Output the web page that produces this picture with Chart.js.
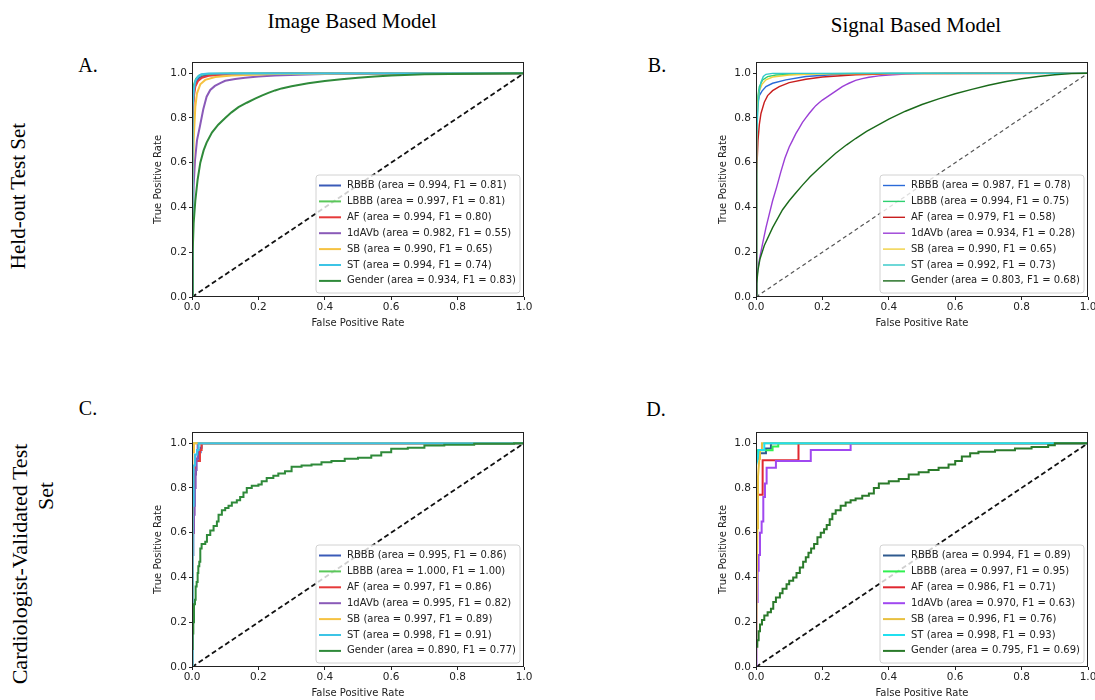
<!DOCTYPE html>
<html>
<head>
<meta charset="utf-8">
<script src="https://cdn.jsdelivr.net/npm/chart.js@4.4.1/dist/chart.umd.min.js"></script>
<style>
  html, body { margin: 0; padding: 0; background: #fff; overflow: hidden; width: 1095px; height: 700px; }
  .lbl { position: absolute; font-family: 'Liberation Serif', 'Times New Roman', serif; font-size: 21px; color: #000;
         white-space: nowrap; transform: translate(-50%, -50%); }
  .rot { transform: translate(-50%, -50%) rotate(-90deg); }
  canvas { position: absolute; }
</style>
</head>
<body>
<div class="lbl" style="left:352px;top:21px">Image Based Model</div>
<div class="lbl" style="left:916px;top:25px">Signal Based Model</div>
<div class="lbl" style="left:88px;top:65px;font-size:20px">A.</div>
<div class="lbl" style="left:657px;top:65px;font-size:20px">B.</div>
<div class="lbl" style="left:88px;top:408px;font-size:20px">C.</div>
<div class="lbl" style="left:656px;top:409px;font-size:20px">D.</div>
<div class="lbl rot" style="left:18px;top:196px">Held-out Test Set</div>
<div class="lbl rot" style="left:20px;top:564px;font-size:22px">Cardiologist-Validated Test</div>
<div class="lbl rot" style="left:46px;top:496px;font-size:22px">Set</div>

<canvas id="chartA" width="400" height="285" style="left:140px;top:50px"></canvas>
<canvas id="chartB" width="390" height="285" style="left:705px;top:50px"></canvas>
<canvas id="chartC" width="400" height="285" style="left:140px;top:420px"></canvas>
<canvas id="chartD" width="390" height="285" style="left:705px;top:420px"></canvas>

<script>
// classes and tick labels
const classNames = ['RBBB', 'LBBB', 'AF', '1dAVb', 'SB', 'ST', 'Gender'];
const xTicks = [0, 0.2, 0.4, 0.6, 0.8, 1.0];
const yTicks = [0, 0.2, 0.4, 0.6, 0.8, 1.0];

// area / F1 per panel
const aucA = [0.994, 0.997, 0.994, 0.982, 0.990, 0.994, 0.934];
const f1A  = [0.81, 0.81, 0.80, 0.55, 0.65, 0.74, 0.83];
const aucB = [0.987, 0.994, 0.979, 0.934, 0.990, 0.992, 0.803];
const f1B  = [0.78, 0.75, 0.58, 0.28, 0.65, 0.73, 0.68];
const aucC = [0.995, 1.000, 0.997, 0.995, 0.997, 0.998, 0.890];
const f1C  = [0.86, 1.00, 0.86, 0.82, 0.89, 0.91, 0.77];
const aucD = [0.994, 0.997, 0.986, 0.970, 0.996, 0.998, 0.795];
const f1D  = [0.89, 0.95, 0.71, 0.63, 0.76, 0.93, 0.69];

// A. image model, held-out set  [fpr, tpr]
const aRBBB = [[0,0],[0.001,0.62],[0.003,0.85],[0.006,0.92],[0.01,0.955],[0.02,0.978],[0.035,0.988],[0.06,0.993],[0.12,0.997],[0.3,0.999],[1,1]];
const aLBBB = [[0,0],[0.001,0.7],[0.003,0.9],[0.006,0.95],[0.012,0.975],[0.022,0.99],[0.04,0.996],[0.1,0.999],[1,1]];
const aAF = [[0,0],[0.001,0.55],[0.003,0.8],[0.006,0.9],[0.01,0.94],[0.018,0.965],[0.03,0.98],[0.05,0.988],[0.1,0.994],[0.25,0.998],[1,1]];
const a1dAVb = [[0,0],[0.002,0.3],[0.005,0.5],[0.009,0.61],[0.015,0.7],[0.024,0.764],[0.034,0.839],[0.044,0.895],[0.055,0.925],[0.069,0.943],[0.085,0.956],[0.1,0.966],[0.13,0.974],[0.16,0.98],[0.2,0.985],[0.25,0.99],[0.32,0.993],[0.4,0.996],[0.6,0.999],[1,1]];
const aSB = [[0,0],[0.002,0.45],[0.005,0.7],[0.01,0.85],[0.015,0.91],[0.025,0.95],[0.04,0.97],[0.07,0.983],[0.12,0.99],[0.25,0.996],[0.5,0.999],[1,1]];
const aST = [[0,0],[0.001,0.6],[0.003,0.85],[0.006,0.93],[0.01,0.965],[0.018,0.985],[0.028,0.995],[0.05,0.999],[1,1]];
const aGender = [[0,0],[0.002,0.2],[0.005,0.33],[0.01,0.43],[0.017,0.525],[0.025,0.6],[0.035,0.655],[0.044,0.69],[0.06,0.735],[0.079,0.77],[0.1,0.8],[0.119,0.825],[0.14,0.848],[0.165,0.868],[0.19,0.886],[0.21,0.9],[0.23,0.912],[0.25,0.923],[0.27,0.932],[0.3,0.942],[0.35,0.955],[0.4,0.965],[0.45,0.973],[0.5,0.98],[0.55,0.985],[0.6,0.99],[0.7,0.995],[0.85,0.998],[1,1]];

// B. signal model, held-out set
const bRBBB = [[0,0],[0.001,0.5],[0.003,0.78],[0.006,0.87],[0.01,0.9],[0.018,0.92],[0.03,0.94],[0.05,0.955],[0.09,0.97],[0.15,0.985],[0.25,0.995],[0.4,0.999],[1,1]];
const bLBBB = [[0,0],[0.001,0.55],[0.003,0.8],[0.006,0.9],[0.01,0.94],[0.02,0.97],[0.035,0.985],[0.06,0.992],[0.15,0.997],[0.3,0.999],[1,1]];
const bAF = [[0,0],[0.001,0.3],[0.003,0.55],[0.006,0.7],[0.01,0.77],[0.015,0.82],[0.025,0.87],[0.035,0.9],[0.05,0.922],[0.07,0.94],[0.1,0.958],[0.15,0.973],[0.2,0.983],[0.3,0.993],[0.45,0.998],[1,1]];
const b1dAVb = [[0,0],[0.002,0.08],[0.006,0.13],[0.012,0.18],[0.02,0.24],[0.03,0.31],[0.04,0.37],[0.05,0.43],[0.062,0.49],[0.075,0.56],[0.087,0.62],[0.1,0.67],[0.11,0.7],[0.12,0.73],[0.13,0.755],[0.14,0.78],[0.15,0.8],[0.16,0.82],[0.17,0.838],[0.18,0.855],[0.19,0.868],[0.2,0.88],[0.21,0.89],[0.22,0.9],[0.23,0.91],[0.24,0.92],[0.25,0.93],[0.26,0.94],[0.27,0.948],[0.28,0.955],[0.3,0.968],[0.32,0.976],[0.34,0.982],[0.37,0.988],[0.4,0.992],[0.45,0.996],[0.5,0.998],[1,1]];
const bSB = [[0,0],[0.001,0.5],[0.003,0.75],[0.006,0.87],[0.01,0.92],[0.018,0.95],[0.03,0.97],[0.05,0.983],[0.1,0.992],[0.2,0.997],[1,1]];
const bST = [[0,0],[0.001,0.45],[0.003,0.72],[0.006,0.85],[0.01,0.92],[0.015,0.96],[0.022,0.985],[0.03,0.995],[0.05,0.999],[1,1]];
const bGender = [[0,0],[0.002,0.06],[0.006,0.12],[0.012,0.17],[0.025,0.23],[0.05,0.31],[0.08,0.39],[0.1,0.43],[0.117,0.46],[0.14,0.5],[0.163,0.537],[0.19,0.575],[0.213,0.607],[0.24,0.642],[0.273,0.68],[0.3,0.708],[0.333,0.74],[0.37,0.77],[0.4,0.795],[0.45,0.83],[0.5,0.86],[0.55,0.885],[0.6,0.908],[0.65,0.928],[0.7,0.946],[0.75,0.962],[0.8,0.975],[0.85,0.985],[0.9,0.993],[0.95,0.998],[1,1]];

// C. image model, cardiologist-validated set
const cRBBB = [[0,0],[0,0.5],[0.004,0.5],[0.004,0.72],[0.008,0.72],[0.008,0.86],[0.012,0.86],[0.012,0.93],[0.018,0.93],[0.018,0.96],[0.026,0.96],[0.026,0.98],[0.029,0.98],[0.029,1],[1,1]];
const cLBBB = [[0,0],[0,1],[1,1]];
const cAF = [[0,0],[0,0.6],[0.006,0.6],[0.006,0.86],[0.01,0.86],[0.01,0.92],[0.024,0.92],[0.024,0.97],[0.029,0.97],[0.029,1],[1,1]];
const c1dAVb = [[0,0],[0,0.4],[0.003,0.4],[0.003,0.6],[0.006,0.6],[0.006,0.68],[0.008,0.68],[0.008,0.8],[0.011,0.8],[0.011,0.88],[0.014,0.88],[0.014,0.93],[0.017,0.93],[0.017,1],[1,1]];
const cSB = [[0,0],[0,0.44],[0.002,0.44],[0.002,0.96],[0.006,0.96],[0.006,1],[1,1]];
const cST = [[0,0],[0,0.6],[0.003,0.6],[0.003,0.72],[0.005,0.72],[0.005,0.9],[0.009,0.9],[0.009,0.95],[0.015,0.95],[0.015,0.97],[0.02,0.97],[0.02,1],[1,1]];
const cGender = [[0,0],[0,0.08],[0.002,0.15],[0.004,0.2],[0.006,0.28],[0.009,0.3],[0.011,0.36],[0.014,0.38],[0.017,0.42],[0.019,0.45],[0.022,0.47],[0.025,0.53],[0.029,0.55],[0.04,0.56],[0.045,0.59],[0.055,0.61],[0.065,0.63],[0.075,0.65],[0.08,0.68],[0.09,0.7],[0.1,0.71],[0.11,0.72],[0.12,0.735],[0.135,0.745],[0.145,0.76],[0.155,0.78],[0.165,0.8],[0.18,0.81],[0.2,0.815],[0.21,0.83],[0.225,0.845],[0.245,0.855],[0.26,0.865],[0.28,0.875],[0.3,0.895],[0.33,0.9],[0.36,0.905],[0.39,0.915],[0.42,0.92],[0.46,0.93],[0.5,0.935],[0.54,0.945],[0.57,0.96],[0.6,0.975],[0.65,0.98],[0.7,0.99],[0.76,0.993],[0.85,0.997],[0.97,1],[1,1]];

// D. signal model, cardiologist-validated set
const dRBBB = [[0,0],[0,0.93],[0.01,0.93],[0.01,0.955],[0.03,0.955],[0.03,0.976],[0.045,0.976],[0.045,1],[1,1]];
const dLBBB = [[0,0],[0,0.94],[0.005,0.94],[0.005,0.969],[0.05,0.969],[0.05,0.985],[0.067,0.985],[0.067,1],[1,1]];
const dAF = [[0,0],[0,0.77],[0.02,0.77],[0.02,0.924],[0.128,0.924],[0.128,1],[1,1]];
const d1dAVb = [[0,0],[0,0.15],[0.002,0.15],[0.002,0.29],[0.005,0.29],[0.005,0.43],[0.008,0.43],[0.008,0.5],[0.012,0.5],[0.012,0.6],[0.017,0.6],[0.017,0.65],[0.022,0.65],[0.022,0.76],[0.027,0.76],[0.027,0.82],[0.032,0.82],[0.032,0.89],[0.06,0.89],[0.06,0.92],[0.165,0.92],[0.165,0.97],[0.285,0.97],[0.285,1],[1,1]];
const dSB = [[0,0],[0.004,0.62],[0.006,0.85],[0.01,0.93],[0.012,0.97],[0.018,0.97],[0.018,1],[1,1]];
const dST = [[0,0],[0,0.9],[0.005,0.93],[0.008,0.97],[0.025,0.97],[0.025,1],[1,1]];
const dGender = [[0,0],[0,0.09],[0.004,0.12],[0.008,0.16],[0.012,0.19],[0.018,0.21],[0.025,0.23],[0.035,0.245],[0.045,0.26],[0.052,0.29],[0.06,0.31],[0.072,0.33],[0.08,0.35],[0.092,0.37],[0.1,0.385],[0.112,0.4],[0.122,0.42],[0.132,0.445],[0.142,0.47],[0.15,0.49],[0.158,0.51],[0.166,0.53],[0.175,0.55],[0.185,0.58],[0.195,0.6],[0.205,0.615],[0.213,0.635],[0.222,0.66],[0.23,0.685],[0.24,0.7],[0.255,0.72],[0.27,0.735],[0.285,0.745],[0.3,0.753],[0.32,0.765],[0.34,0.775],[0.355,0.8],[0.37,0.82],[0.4,0.83],[0.43,0.84],[0.46,0.86],[0.49,0.87],[0.52,0.88],[0.55,0.89],[0.58,0.905],[0.6,0.92],[0.62,0.94],[0.645,0.955],[0.67,0.962],[0.72,0.969],[0.78,0.976],[0.83,0.983],[0.88,0.991],[0.9,1],[1,1]];

// line colours per panel
const colorsImg = ['#3a5bb8', '#5ac85a', '#e63a3a', '#8a5ab8', '#f5c242', '#3cc4e6', '#2f8a3a'];
const colorsSigB = ['#2a6ad8', '#2ed070', '#c81e1e', '#9b3fd6', '#f0d040', '#30c8c8', '#1a6a1a'];
const colorsSigD = ['#2f5a8f', '#30f050', '#e02830', '#a048f0', '#e8c040', '#20e0f0', '#2a7a2a'];

const sans = 'DejaVu Sans';

// spines + legend inside the plot, lower right
const rocLegend = {
  id: 'rocLegend',
  afterDatasetsDraw(chart) {
    const { ctx, chartArea: ca } = chart;
    ctx.save();
    ctx.strokeStyle = '#222';
    ctx.lineWidth = 1;
    ctx.strokeRect(ca.left + 0.5, ca.top + 0.5, ca.right - ca.left - 1, ca.bottom - ca.top - 1);

    const w = 204, h = 118, r = 3;
    const x0 = ca.right - 4 - w, y0 = ca.bottom - 4 - h;
    ctx.beginPath();
    ctx.moveTo(x0 + r, y0);
    ctx.arcTo(x0 + w, y0, x0 + w, y0 + h, r);
    ctx.arcTo(x0 + w, y0 + h, x0, y0 + h, r);
    ctx.arcTo(x0, y0 + h, x0, y0, r);
    ctx.arcTo(x0, y0, x0 + w, y0, r);
    ctx.closePath();
    ctx.fillStyle = 'rgba(255,255,255,0.8)';
    ctx.fill();
    ctx.strokeStyle = '#d2d2d2';
    ctx.stroke();

    ctx.font = '10px ' + sans;
    ctx.textBaseline = 'middle';
    chart.data.datasets.filter(ds => !ds.diag).forEach((ds, i) => {
      const y = y0 + 10.5 + i * 15.9;
      ctx.beginPath();
      ctx.strokeStyle = ds.borderColor;
      ctx.lineWidth = ds.borderWidth;
      ctx.moveTo(x0 + 3, y);
      ctx.lineTo(x0 + 25, y);
      ctx.stroke();
      ctx.fillStyle = '#222';
      ctx.fillText(ds.label, x0 + 31, y);
    });
    ctx.restore();
  }
};

function rocChart(id, curves, auc, f1, colors, lw, diag, yWidth, padRight, stepGender) {
  const datasets = curves.map((c, i) => ({
    label: `${classNames[i]} (area = ${auc[i].toFixed(3)}, F1 = ${f1[i].toFixed(2)})`,
    data: c.map(p => ({ x: p[0], y: p[1] })),
    borderColor: colors[i],
    borderWidth: lw,
    stepped: (stepGender && i === 6) ? 'before' : false,
    order: -i
  }));
  datasets.push({
    label: '', diag: true,
    data: [{ x: 0, y: 0 }, { x: 1, y: 1 }],
    borderColor: diag.color, borderWidth: diag.width, borderDash: diag.dash,
    order: 10
  });

  const tickFont = { family: sans, size: 10.5 };
  const titleFont = { family: sans, size: 10 };

  return new Chart(document.getElementById(id), {
    type: 'scatter',
    data: { datasets },
    options: {
      responsive: false,
      animation: false,
      devicePixelRatio: 1,
      showLine: true,
      elements: { point: { radius: 0 }, line: { tension: 0, fill: false } },
      layout: { padding: { left: 0, top: 12, right: padRight, bottom: 0 } },
      plugins: { legend: { display: false }, tooltip: { enabled: false } },
      scales: {
        x: {
          type: 'linear', min: 0, max: 1,
          afterBuildTicks: s => { s.ticks = xTicks.map(v => ({ value: v })); },
          afterFit: s => { s.height = 38; s.paddingLeft = 0; s.paddingRight = 0; },
          grid: { drawOnChartArea: false, drawTicks: true, tickLength: 3, color: '#222' },
          border: { display: false },
          ticks: { font: tickFont, color: '#222', padding: 1, maxRotation: 0, callback: v => v.toFixed(1) },
          title: { display: true, text: 'False Positive Rate', font: titleFont, color: '#222', padding: { top: 0, bottom: 6 } }
        },
        y: {
          type: 'linear', min: 0, max: 1.05,
          afterBuildTicks: s => { s.ticks = yTicks.map(v => ({ value: v })); },
          afterFit: s => { s.width = yWidth; s.paddingTop = 0; s.paddingBottom = 0; },
          grid: { drawOnChartArea: false, drawTicks: true, tickLength: 3, color: '#222' },
          border: { display: false },
          ticks: { font: tickFont, color: '#222', padding: 2, callback: v => v.toFixed(1) },
          title: { display: true, text: 'True Positive Rate', font: titleFont, color: '#222', padding: { top: 12, bottom: 0 } }
        }
      }
    },
    plugins: [rocLegend]
  });
}

const diagBold = { color: '#111', width: 1.8, dash: [5, 3] };
const diagThin = { color: '#555', width: 1.2, dash: [4, 3] };

rocChart('chartA', [aRBBB, aLBBB, aAF, a1dAVb, aSB, aST, aGender], aucA, f1A, colorsImg, 2, diagBold, 52, 16, false);
rocChart('chartB', [bRBBB, bLBBB, bAF, b1dAVb, bSB, bST, bGender], aucB, f1B, colorsSigB, 1.4, diagThin, 51, 7, false);
rocChart('chartC', [cRBBB, cLBBB, cAF, c1dAVb, cSB, cST, cGender], aucC, f1C, colorsImg, 2, diagBold, 52, 16, true);
rocChart('chartD', [dRBBB, dLBBB, dAF, d1dAVb, dSB, dST, dGender], aucD, f1D, colorsSigD, 2, diagBold, 51, 7, true);
</script>
</body>
</html>
